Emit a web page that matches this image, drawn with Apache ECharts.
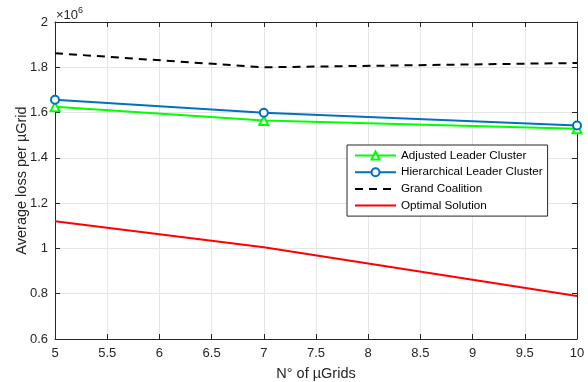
<!DOCTYPE html>
<html>
<head>
<meta charset="utf-8">
<script src="https://cdn.jsdelivr.net/npm/echarts@6/dist/echarts.min.js"></script>
<style>html,body{margin:0;padding:0;background:#fff}#c{width:588px;height:382px}</style>
</head>
<body>
<div id="c"></div>
<script>
// Data (values in units of 1e6)
const xValues = [5, 7, 10];
const adjustedLeader = [1.626, 1.565, 1.528];
const hierarchicalLeader = [1.657, 1.599, 1.543];
const grandCoalition = [1.862, 1.800, 1.819];
const optimalSolution = [1.120, 1.005, 0.790];
const seriesNames = ['Adjusted Leader Cluster', 'Hierarchical Leader Cluster', 'Grand Coalition', 'Optimal Solution'];

const FONT = 'Liberation Sans, Arial, Helvetica, sans-serif';
const AX = '#262626';
const pairs = arr => xValues.map((x, i) => [x, arr[i]]);

const chart = echarts.init(document.getElementById('c'), null, {renderer: 'canvas'});
const boxAxis = {
  axisLine: {show: true, lineStyle: {color: AX, width: 1}},
  axisTick: {show: true, inside: true, length: 5, lineStyle: {color: AX}},
  axisLabel: {show: false},
  splitLine: {show: false}
};
const hiddenSym = {color: 'rgba(0,0,0,0)', borderWidth: 0, borderColor: 'rgba(0,0,0,0)'};
chart.setOption({
  animation: false,
  textStyle: {fontFamily: FONT},
  title: {
    left: 56, top: 6, padding: 0,
    text: '{a|×10}{b|6}',
    textStyle: {fontWeight: 'normal', rich: {
      a: {fontSize: 13, color: AX, fontFamily: FONT, fontWeight: 'normal', lineHeight: 16, verticalAlign: 'bottom'},
      b: {fontSize: 9, color: AX, fontFamily: FONT, fontWeight: 'normal', lineHeight: 16, verticalAlign: 'top'}
    }}
  },
  grid: {left: 55, right: 11, top: 22, bottom: 43, containLabel: false, outerBoundsMode: 'none'},
  legend: {
    left: 347, top: 145, orient: 'vertical',
    backgroundColor: '#fff', borderColor: AX, borderWidth: 1, borderRadius: 0,
    padding: [4.5, 5, 4.5, 7],
    itemWidth: 41, itemHeight: 10, itemGap: 4.7,
    textStyle: {fontSize: 11.7, color: '#000', fontFamily: FONT},
    data: [
      {name: seriesNames[0]},
      {name: seriesNames[1]},
      {name: seriesNames[2], itemStyle: hiddenSym},
      {name: seriesNames[3], itemStyle: hiddenSym}
    ]
  },
  xAxis: [{
    type: 'value', min: 5, max: 10, interval: 0.5,
    name: 'N° of µGrids', nameLocation: 'middle', nameGap: 27, nameMoveOverlap: false,
    nameTextStyle: {fontSize: 14.5, color: AX, fontFamily: FONT},
    axisLine: {show: true, lineStyle: {color: AX, width: 1}},
    axisTick: {show: true, inside: true, length: 5, lineStyle: {color: AX}},
    axisLabel: {fontSize: 13, color: AX, margin: 8, fontFamily: FONT},
    splitLine: {show: true, lineStyle: {color: '#e6e6e6', width: 1}}
  }, Object.assign({type: 'value', position: 'top', min: 5, max: 10, interval: 0.5}, boxAxis)],
  yAxis: [{
    type: 'value', min: 0.6, max: 2, interval: 0.2,
    name: 'Average loss per µGrid', nameLocation: 'middle', nameGap: 26, nameMoveOverlap: false,
    nameTextStyle: {fontSize: 14.5, color: AX, fontFamily: FONT},
    axisLine: {show: true, lineStyle: {color: AX, width: 1}},
    axisTick: {show: true, inside: true, length: 5, lineStyle: {color: AX}},
    axisLabel: {fontSize: 13, color: AX, margin: 7, fontFamily: FONT,
      formatter: v => String(Math.round(v * 10) / 10)},
    splitLine: {show: true, lineStyle: {color: '#e6e6e6', width: 1}}
  }, Object.assign({type: 'value', position: 'right', min: 0.6, max: 2, interval: 0.2}, boxAxis)],
  series: [
    {name: seriesNames[0], type: 'line', data: pairs(adjustedLeader), z: 3,
     symbol: 'triangle', symbolSize: 9, showAllSymbol: true,
     lineStyle: {color: '#00ff00', width: 2},
     itemStyle: {color: '#ffffff', borderColor: '#00ff00', borderWidth: 2}},
    {name: seriesNames[1], type: 'line', data: pairs(hierarchicalLeader), z: 4,
     symbol: 'circle', symbolSize: 8,
     lineStyle: {color: '#0072bd', width: 2},
     itemStyle: {color: '#ffffff', borderColor: '#0072bd', borderWidth: 2}},
    {name: seriesNames[2], type: 'line', data: pairs(grandCoalition), z: 2,
     symbol: 'none',
     lineStyle: {color: '#000000', width: 2, type: [8, 6]},
     itemStyle: {color: '#000000'}},
    {name: seriesNames[3], type: 'line', data: pairs(optimalSolution), z: 2,
     symbol: 'none',
     lineStyle: {color: '#ff0000', width: 2},
     itemStyle: {color: '#ff0000'}}
  ]
});
</script>
</body>
</html>
